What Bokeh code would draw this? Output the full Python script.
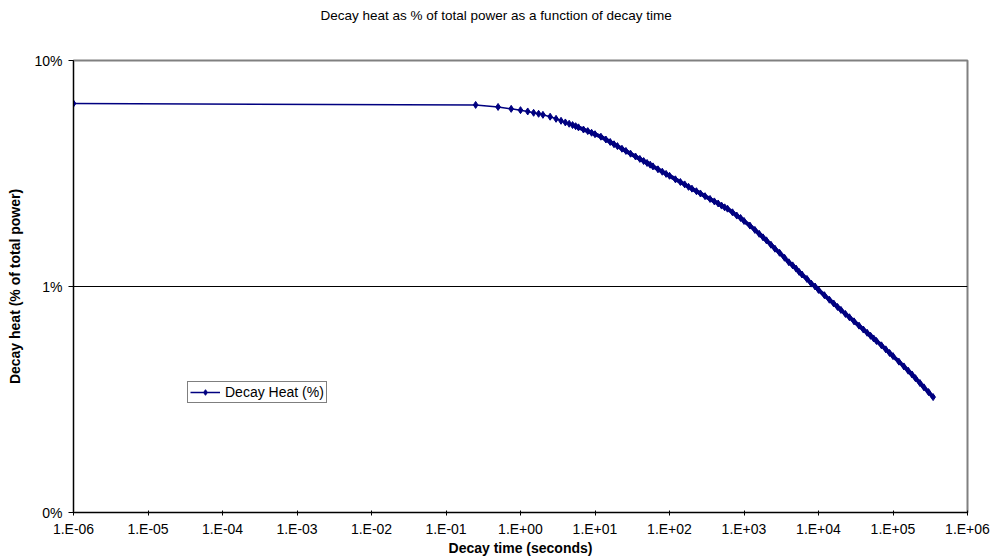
from bokeh.plotting import figure
from bokeh.models import (ColumnDataSource, FixedTicker, CustomJSTickFormatter,
                          Range1d, Title)
from bokeh.embed import file_html
from bokeh.resources import INLINE

# ---------------- data ----------------
title_text = "Decay heat as % of total power as a function of decay time"
x_title = "Decay time (seconds)"
y_title = "Decay heat (% of total power)"
series_name = "Decay Heat (%)"

decay_time_s = [
    1e-6, 0.25, 0.5, 0.75, 1, 1.25, 1.5, 1.75, 2, 2.5, 3, 3.5, 4, 4.5, 5, 5.5, 6, 7, 8, 9,
    10, 12, 14, 16, 18, 20, 23, 26, 30, 35, 40, 45, 50, 55, 60, 70, 80, 90,
    100, 120, 140, 160, 180, 200, 230, 260, 300, 350, 400, 450, 500, 550, 600, 700, 800, 900,
    1000, 1200, 1400, 1600, 1800, 2000, 2300, 2600, 3000, 3500, 4000, 4500, 5000, 5500, 6000,
    7000, 8000, 9000,
    10000, 12000, 14000, 16000, 18000, 20000, 23000, 26000, 30000, 35000, 40000, 45000,
    50000, 55000, 60000, 70000, 80000, 90000,
    100000, 120000, 140000, 160000, 180000, 200000, 230000, 260000, 300000, 345600,
]
decay_heat_pct = [
    6.45, 6.36, 6.23, 6.11, 6.03, 5.95, 5.87, 5.81, 5.75, 5.64, 5.52, 5.41, 5.32, 5.25, 5.18, 5.12, 5.06, 4.95, 4.87, 4.79,
    4.72, 4.60, 4.47, 4.36, 4.26, 4.18, 4.07, 3.98, 3.87, 3.76, 3.67, 3.59, 3.52, 3.46, 3.40, 3.30, 3.22, 3.15,
    3.09, 2.98, 2.90, 2.83, 2.76, 2.71, 2.64, 2.58, 2.51, 2.44, 2.38, 2.33, 2.28, 2.24, 2.21, 2.13, 2.06, 2.01,
    1.95, 1.86, 1.78, 1.71, 1.65, 1.60, 1.53, 1.47, 1.41, 1.34, 1.28, 1.24, 1.20, 1.16, 1.13,
    1.08, 1.03, 1.00,
    0.966, 0.915, 0.874, 0.841, 0.812, 0.788, 0.756, 0.731, 0.701, 0.671, 0.645, 0.624,
    0.605, 0.589, 0.574, 0.549, 0.527, 0.508,
    0.492, 0.465, 0.443, 0.424, 0.408, 0.393, 0.374, 0.358, 0.341, 0.324,
]

x_ticks = [1e-6, 1e-5, 1e-4, 1e-3, 1e-2, 1e-1, 1e0, 1e1, 1e2, 1e3, 1e4, 1e5, 1e6]
x_tick_labels = ["1.E-06", "1.E-05", "1.E-04", "1.E-03", "1.E-02", "1.E-01", "1.E+00",
                 "1.E+01", "1.E+02", "1.E+03", "1.E+04", "1.E+05", "1.E+06"]
y_ticks = [0.1, 1, 10]
y_tick_labels = ["0%", "1%", "10%"]

# ---------------- styling ----------------
FONT = "Liberation Sans"
NAVY = "#000080"

p = figure(width=991, height=559, x_axis_type="log", y_axis_type="log",
           x_range=Range1d(x_ticks[0], x_ticks[-1]), y_range=Range1d(y_ticks[0], y_ticks[-1]),
           output_backend="svg", toolbar_location=None,
           min_border_left=73, min_border_right=24, min_border_top=60, min_border_bottom=47)
p.background_fill_color = "white"
p.border_fill_color = "white"
p.outline_line_color = "#808080"
p.outline_line_width = 2

# spacer between the frame and the title (keeps the title near the top edge)
spacer = Title(text=" ", standoff=17, text_font=FONT, text_font_size="13.5px")
p.add_layout(spacer, "above")

p.title = Title(text=title_text, align="left", offset=247, standoff=4,
                vertical_align="top", text_font=FONT, text_font_size="13.5px",
                text_font_style="normal", text_color="black")

src = ColumnDataSource(dict(t=decay_time_s, h=decay_heat_pct))
k = decay_time_s.index(5)
band_src = ColumnDataSource(dict(t=decay_time_s[k:], h=decay_heat_pct[k:]))

p.line("t", "h", source=band_src, line_color=NAVY, line_width=4)
p.line("t", "h", source=src, line_color=NAVY, line_width=1.5, legend_label=series_name)
p.scatter("t", "h", source=src, marker="diamond", size=7,
          fill_color=NAVY, line_color=NAVY, line_width=1, legend_label=series_name)

fmt_code = """
for (let i = 0; i < tv.length; i++) {
  if (Math.abs(Math.log10(tick) - Math.log10(tv[i])) < 1e-6) { return tt[i]; }
}
return "";
"""

xa = p.xaxis[0]
xa.ticker = FixedTicker(ticks=x_ticks, minor_ticks=[])
xa.formatter = CustomJSTickFormatter(args=dict(tv=x_ticks, tt=x_tick_labels), code=fmt_code)
xa.axis_label = x_title
xa.major_tick_in = 2
xa.major_tick_out = 3
xa.major_label_standoff = 5
xa.axis_label_standoff = 0

ya = p.yaxis[0]
ya.ticker = FixedTicker(ticks=y_ticks, minor_ticks=[])
ya.formatter = CustomJSTickFormatter(args=dict(tv=y_ticks, tt=y_tick_labels), code=fmt_code)
ya.axis_label = y_title
ya.major_tick_in = 0
ya.major_tick_out = 5
ya.major_label_standoff = 6
ya.axis_label_standoff = 8

for ax in (xa, ya):
    ax.axis_line_color = "black"
    ax.axis_line_width = 1
    ax.major_tick_line_color = "black"
    ax.minor_tick_line_color = None
    ax.major_label_text_font = FONT
    ax.major_label_text_font_size = "14px"
    ax.major_label_text_color = "black"
    ax.axis_label_text_font = FONT
    ax.axis_label_text_font_size = "14px"
    ax.axis_label_text_font_style = "bold"
    ax.axis_label_text_color = "black"

p.xgrid.grid_line_color = None
p.ygrid.ticker = FixedTicker(ticks=[1])
p.ygrid.grid_line_color = "#000000"
p.ygrid.grid_line_width = 1

lg = p.legend[0]
lg.location = (114, 109)
lg.border_line_color = "black"
lg.border_line_width = 1
lg.background_fill_color = "white"
lg.background_fill_alpha = 1
lg.padding = 2
lg.margin = 0
lg.spacing = 0
lg.glyph_width = 30
lg.glyph_height = 14
lg.label_height = 14
lg.label_standoff = 5
lg.label_text_font = FONT
lg.label_text_font_size = "14px"
lg.label_text_color = "black"

open("out.html", "w").write(file_html(p, INLINE))
